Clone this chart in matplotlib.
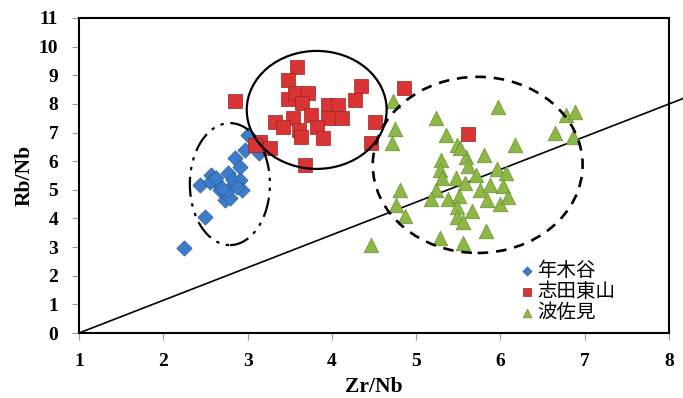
import matplotlib
matplotlib.use("Agg")
import matplotlib.pyplot as plt
from matplotlib.patches import Ellipse

# 年木谷 (blue diamonds)
nenkidani_x = [2.24, 2.50, 2.43, 2.57, 2.61, 2.55, 2.67, 2.73, 2.79, 2.77,
               2.77, 2.83, 2.91, 2.93, 2.85, 2.91, 2.97, 3.01, 3.13, 2.88,
               2.70, 2.62]
nenkidani_y = [2.98, 4.04, 5.17, 5.52, 5.32, 5.28, 4.99, 4.64, 4.70, 4.99,
               5.58, 5.34, 5.34, 4.99, 6.10, 5.81, 6.39, 6.91, 6.27, 5.10,
               5.05, 5.40]

# 志田東山 (red squares)
shidahigashi_x = [3.59, 3.48, 4.34, 4.85, 3.48, 3.56, 3.72, 3.64, 4.27, 3.95,
                  4.07, 3.75, 3.54, 3.96, 4.12, 3.33, 3.42, 3.82, 3.61, 3.63,
                  3.89, 4.51, 4.47, 3.15, 3.27, 3.09, 3.68, 2.85, 5.62]
shidahigashi_y = [9.28, 8.83, 8.64, 8.54, 8.16, 8.37, 8.39, 8.02, 8.14, 7.96,
                  7.96, 7.61, 7.50, 7.50, 7.50, 7.38, 7.20, 7.20, 7.08, 6.85,
                  6.80, 7.38, 6.62, 6.68, 6.45, 6.56, 5.87, 8.10, 6.95]

# 波佐見 (green triangles)
hasami_x = [4.73, 4.75, 4.71, 5.97, 5.24, 5.35, 5.48, 5.81, 6.17, 6.65,
            6.78, 6.88, 6.86, 5.30, 5.59, 5.62, 5.28, 5.31, 5.47, 5.71,
            5.96, 6.07, 5.58, 5.76, 5.88, 6.03, 5.24, 5.18, 5.38, 5.51,
            5.84, 5.99, 6.09, 4.81, 4.76, 4.87, 5.48, 5.66, 5.49, 5.55,
            5.83, 5.28, 5.56, 4.46, 5.52]
hasami_y = [8.11, 7.11, 6.65, 7.90, 7.50, 6.91, 6.56, 6.22, 6.56, 6.99,
            7.61, 7.73, 6.85, 6.04, 6.16, 5.83, 5.69, 5.40, 5.40, 5.52,
            5.72, 5.60, 5.23, 4.99, 5.17, 5.13, 4.99, 4.67, 4.67, 4.78,
            4.64, 4.50, 4.76, 4.99, 4.47, 4.09, 4.41, 4.27, 4.06, 3.89,
            3.57, 3.31, 3.13, 3.07, 6.45]

# reference line y = 8/7 (x - 1)
line_x = [1.0, 8.16]
line_y = [0.0, 8.18]

plt.rcParams["font.family"] = ["Noto Sans CJK JP", "DejaVu Sans"]

fig = plt.figure(figsize=(6.83, 3.98), dpi=100)
ax = fig.add_axes([0.1157, 0.1633, 0.8638, 0.7915])

ax.plot(line_x, line_y, color="black", lw=1.2, clip_on=False, zorder=1)

ax.scatter(nenkidani_x, nenkidani_y, marker="D", s=60, color="#3D7CCB",
           edgecolors="#2A5B9C", linewidths=0.5, zorder=3, label="年木谷")
ax.scatter(shidahigashi_x, shidahigashi_y, marker="s", s=110, color="#D93434",
           edgecolors="#9C2222", linewidths=0.5, zorder=3, label="志田東山")
ax.scatter(hasami_x, hasami_y, marker="^", s=110, color="#8DB845",
           edgecolors="#6A8E30", linewidths=0.5, zorder=3, label="波佐見")

# group ellipses
ax.add_patch(Ellipse((2.79, 5.20), 0.95, 4.26, fill=False, color="black",
                     lw=1.6, ls=(0, (9, 3, 1.5, 3, 1.5, 3)), zorder=4))
ax.add_patch(Ellipse((3.82, 7.79), 1.66, 4.12, fill=False, color="black",
                     lw=1.6, zorder=4))
ax.add_patch(Ellipse((5.73, 5.87), 2.49, 6.15, fill=False, color="black",
                     lw=1.9, ls=(0, (4, 3)), zorder=4))

ax.set_xlim(1, 8)
ax.set_ylim(0, 11)
ax.set_xticks(range(1, 9))
ax.set_yticks(range(0, 12))

tick_font = dict(family="Liberation Serif", weight="bold", size=14)
ax.set_xticklabels([str(v) for v in range(1, 9)], fontdict=tick_font)
ax.set_yticklabels([str(v) for v in range(0, 12)], fontdict=tick_font)
ax.tick_params(axis="x", direction="out", length=5, width=0.8, color="#999999", pad=9.5)
ax.tick_params(axis="y", direction="out", length=5, width=0.8, color="#999999", pad=10)
for s in ax.spines.values():
    s.set_linewidth(1.5)

label_font = dict(family="Liberation Serif", weight="bold", size=15.5)
ax.set_xlabel("Zr/Nb", fontdict=label_font, labelpad=5)
ax.set_ylabel("Rb/Nb", fontdict=label_font, labelpad=3)

ax.legend(loc="upper left", bbox_to_anchor=(0.72, 0.275), frameon=False,
          prop=dict(family="Noto Sans CJK JP", size=14), markerscale=0.6,
          handletextpad=0.0, labelspacing=0.0, borderpad=0.2, handlelength=1.0)

fig.savefig("out.png", dpi=100)
